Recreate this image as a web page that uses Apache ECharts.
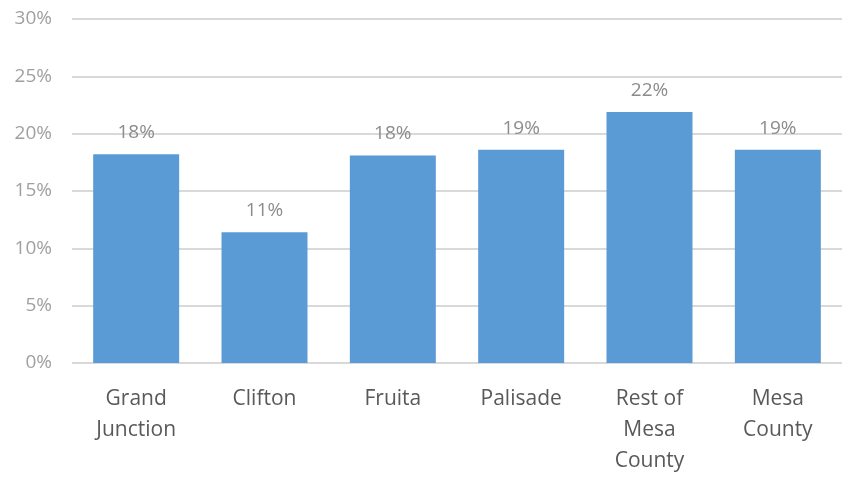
<!DOCTYPE html>
<html>
<head>
<meta charset="utf-8">
<script src="https://cdn.jsdelivr.net/npm/echarts@6/dist/echarts.min.js"></script>
<style>
  html, body { margin: 0; padding: 0; background: #fff; }
  #chart { width: 842px; height: 477px; }
</style>
</head>
<body>
<div id="chart"></div>
<script>
// categories and values (percent)
var categories = ['Grand\nJunction', 'Clifton', 'Fruita', 'Palisade', 'Rest of\nMesa\nCounty', 'Mesa\nCounty'];
var shares = [18.2, 11.4, 18.1, 18.6, 21.9, 18.6];
var yTicks = [0, 5, 10, 15, 20, 25, 30];

var myChart = echarts.init(document.getElementById('chart'));

myChart.setOption({
  animation: false,
  grid: {
    left: 72,
    width: 774,
    top: 19,
    height: 350,
    containLabel: false
  },
  xAxis: {
    type: 'category',
    data: categories,
    axisLine: { show: false },
    axisTick: { show: false },
    axisLabel: {
      interval: 0,
      margin: 21,
      fontFamily: 'Open Sans',
      fontSize: 21,
      lineHeight: 31,
      color: '#595959'
    }
  },
  yAxis: {
    type: 'value',
    min: yTicks[0],
    max: yTicks[yTicks.length - 1],
    interval: 5,
    axisLine: { show: false },
    axisTick: { show: false },
    splitLine: { lineStyle: { color: '#d9d9d9', width: 2 } },
    axisLabel: {
      margin: 20,
      fontFamily: 'Open Sans',
      fontSize: 19,
      color: '#a0a0a0',
      formatter: function (v) { return v + '%'; }
    }
  },
  series: [{
    type: 'bar',
    data: shares,
    barCategoryGap: '33%',
    itemStyle: { color: '#5b9bd5' },
    label: {
      show: true,
      position: 'top',
      distance: 12,
      fontFamily: 'Open Sans',
      fontSize: 19,
      color: '#8c8c8c',
      formatter: function (p) { return Math.round(p.value) + '%'; }
    }
  }]
});
</script>
</body>
</html>
